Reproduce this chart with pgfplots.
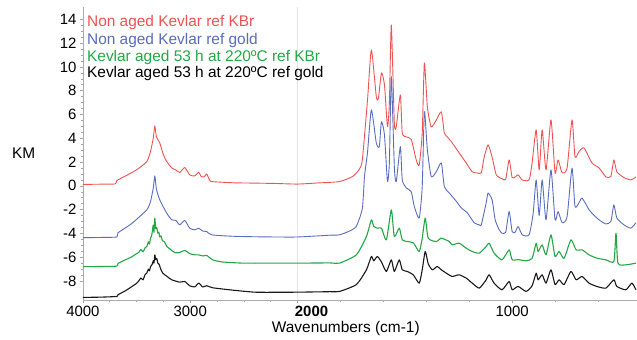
\documentclass[border=0pt]{standalone}
\usepackage{pgfplots}
\pgfplotsset{compat=1.18}
\usepackage{pgfplotstable}
\usepackage{fontspec}
\setmainfont{Liberation Sans}
\definecolor{cred}{RGB}{240,82,82}
\definecolor{cblue}{RGB}{88,108,192}
\definecolor{cgreen}{RGB}{34,168,70}
\definecolor{cblack}{RGB}{25,25,25}

\pgfplotstableread{
wn val
4000 0.12
3842 0.14
3700 0.16
3684 0.45
3600 0.85
3500 1.35
3405 2.04
3370 2.9
3345 4.0
3330 5.04
3315 4.1
3284 3.61
3250 2.6
3219 2.04
3172 1.51
3135 1.34
3098 1.13
3051 1.54
3005 0.92
2958 0.84
2921 1.15
2900 0.8
2870 0.76
2847 1.0
2820 0.5
2800 0.36
2600 0.26
2400 0.23
2200 0.2
2000 0.15
1900 0.25
1805 0.36
1744 0.78
1712 1.4
1698 2.2
1674 7.2
1656 11.43
1633 7.5
1623 7.39
1609 9.5
1595 8.5
1581 4.98
1572 7.0
1563 13.53
1549 5.3
1540 4.98
1521 7.65
1512 4.45
1493 4.12
1470 3.9
1447 2.18
1433 1.76
1419 4.45
1409 10.34
1395 6.64
1377 4.96
1353 5.55
1330 6.22
1316 4.45
1302 4.12
1279 3.61
1247 2.77
1214 1.93
1186 1.18
1163 1.09
1144 1.09
1130 2.44
1112 3.45
1093 2.4
1074 0.93
1047 0.6
1030 0.55
1014 2.18
1000 0.7
986 0.75
972 0.93
953 0.5
921 0.5
907 1.93
888 4.71
874 1.34
860 4.71
842 1.34
819 5.55
800 1.09
786 2.18
767 1.09
744 1.5
721 5.55
707 2.44
688 2.9
665 3.19
628 1.93
595 1.51
563 0.75
540 0.8
526 2.18
512 1.18
479 0.7
447 0.5
423 0.75
}\redtab

\pgfplotstableread{
wn val
4000 -4.36
3842 -4.34
3684 -4.3
3674 -3.95
3550 -3.2
3405 -2.02
3370 -1.3
3345 -0.2
3330 0.84
3315 -0.3
3284 -1.18
3219 -2.3
3172 -2.86
3135 -2.9
3098 -3.28
3051 -2.91
3005 -3.56
2958 -3.7
2921 -3.56
2884 -3.8
2847 -3.84
2800 -4.12
2600 -4.24
2400 -4.28
2200 -4.3
2000 -4.3
1850 -4.15
1805 -4.12
1758 -3.8
1726 -3.4
1698 -1.9
1688 0.8
1674 2.8
1656 6.39
1633 3.61
1619 3.3
1609 5.4
1595 4.3
1581 0.36
1572 2.0
1563 9.18
1549 1.62
1540 0.36
1521 3.3
1512 0.5
1493 -0.17
1470 -0.5
1456 -1.74
1433 -2.71
1419 -0.06
1409 6.24
1395 3.03
1377 0.78
1353 1.2
1330 1.93
1316 -0.06
1293 -0.6
1260 -1.3
1237 -1.85
1209 -2.27
1177 -3.1
1153 -3.28
1144 -3.3
1121 -1.43
1112 -0.6
1093 -1.2
1079 -2.86
1060 -3.7
1047 -3.98
1030 -3.9
1014 -2.16
1000 -3.84
986 -3.9
972 -3.42
953 -4.12
921 -4.12
902 -2.3
888 0.5
874 -2.5
860 0.5
842 -2.86
819 1.34
800 -2.86
786 -2.16
767 -3.1
744 -2.6
721 1.49
707 -1.74
688 -1.4
674 -1.03
642 -2.0
628 -2.3
595 -2.86
563 -3.2
540 -3.0
526 -1.6
512 -2.71
479 -3.28
447 -3.56
423 -3.1
}\bluetab

\pgfplotstableread{
wn val
4000 -6.8
3842 -6.78
3684 -6.75
3674 -6.53
3600 -6.2
3550 -6.0
3500 -5.7
3480 -5.6
3460 -5.35
3440 -5.55
3420 -5.2
3405 -5.1
3390 -4.7
3380 -4.9
3370 -4.4
3360 -4.2
3350 -3.6
3345 -3.3
3338 -3.9
3330 -2.71
3322 -3.6
3312 -3.5
3302 -3.98
3292 -3.9
3284 -4.3
3272 -4.2
3260 -4.6
3240 -4.7
3219 -5.1
3190 -5.3
3172 -5.45
3135 -5.63
3098 -5.6
3051 -5.43
3005 -5.7
2958 -5.8
2921 -5.8
2880 -5.9
2847 -5.85
2791 -6.22
2700 -6.4
2500 -6.5
2200 -6.5
2000 -6.5
1850 -6.48
1805 -6.5
1726 -5.8
1679 -4.26
1656 -2.86
1645 -3.4
1628 -3.56
1609 -3.56
1586 -4.54
1563 -2.02
1549 -4.26
1526 -3.56
1512 -4.54
1488 -4.68
1460 -4.8
1433 -5.52
1419 -4.4
1405 -2.71
1391 -4.4
1353 -4.68
1330 -4.4
1293 -4.68
1279 -4.96
1247 -4.82
1214 -5.24
1186 -5.52
1153 -5.66
1121 -5.1
1107 -4.82
1084 -5.66
1047 -6.22
1014 -5.38
1000 -6.22
972 -6.2
935 -6.3
907 -6.1
888 -4.82
879 -5.52
860 -4.96
842 -5.8
819 -4.12
800 -5.94
781 -5.52
758 -6.1
726 -4.54
702 -5.38
674 -5.38
642 -5.8
605 -6.08
563 -6.22
526 -6.36
516 -3.98
507 -6.5
470 -6.64
423 -6.5
}\greentab

\pgfplotstableread{
wn val
4000 -9.38
3842 -9.36
3684 -9.3
3674 -9.16
3600 -8.8
3500 -8.2
3480 -8.0
3460 -7.75
3440 -7.9
3420 -7.45
3405 -7.34
3390 -7.0
3380 -7.15
3370 -6.8
3355 -6.6
3345 -6.3
3338 -6.5
3330 -5.8
3322 -6.2
3312 -6.1
3302 -6.5
3290 -6.6
3275 -7.0
3256 -7.34
3219 -7.6
3172 -7.9
3098 -8.1
3051 -8.04
3005 -8.4
2958 -8.5
2921 -8.18
2884 -8.5
2847 -8.4
2791 -8.57
2605 -8.77
2400 -8.94
2200 -8.95
2000 -8.94
1850 -8.9
1805 -8.88
1726 -8.3
1679 -7.06
1656 -5.94
1645 -6.3
1628 -5.94
1609 -6.4
1586 -7.2
1563 -6.22
1549 -7.2
1526 -6.22
1512 -7.06
1488 -7.2
1460 -7.5
1433 -8.18
1419 -7.06
1405 -5.52
1391 -6.55
1372 -7.06
1349 -6.78
1330 -7.06
1307 -7.34
1279 -7.62
1247 -7.48
1214 -7.76
1186 -8.18
1153 -8.6
1121 -7.9
1107 -7.48
1084 -8.18
1047 -8.74
1014 -8.04
1000 -8.74
972 -8.46
935 -8.88
907 -8.4
888 -7.34
879 -7.9
860 -7.48
842 -8.18
819 -7.06
800 -8.3
781 -7.9
758 -8.3
726 -7.2
702 -7.9
674 -7.62
642 -8.18
605 -8.46
563 -8.6
526 -7.9
512 -8.46
470 -8.74
442 -8.18
423 -8.74
}\blacktab

\begin{document}
\begin{tikzpicture}
\begin{axis}[
  scale only axis,
  width=554bp, height=292.7bp,
  xmin=0, xmax=5160, ymin=-9.6, ymax=15,
  axis x line*=bottom, axis y line*=left,
  axis line style={gray!65, line width=0.8bp},
  xtick={0,1000,2000,4000},
  xticklabels={4000,3000,\textbf{\hspace*{28bp}2000},1000},
  minor xtick={250,500,750,1250,1500,1750,2400,2800,3200,3600,4400,4800},
  ytick={-8,-6,...,14},
  minor y tick num=3,
  tick align=outside,
  major tick length=3bp, minor tick length=2bp,
  tick style={gray!70, line width=0.6bp},
  ticklabel style={font=\fontsize{15}{15}\selectfont},
  /pgf/number format/assume math mode=true,
  extra x ticks={2000}, extra x tick labels={},
  extra x tick style={grid=major, major grid style={gray!20, line width=0.8bp}, major tick length=0pt},
  every axis plot/.append style={line width=0.9bp, line join=round, smooth, tension=0.35},
]
\addplot[cred] table[x expr={\thisrow{wn}>1999.5 ? 4000-\thisrow{wn} : 6000-2*\thisrow{wn}}, y=val] {\redtab};
\addplot[cblue] table[x expr={\thisrow{wn}>1999.5 ? 4000-\thisrow{wn} : 6000-2*\thisrow{wn}}, y=val] {\bluetab};
\addplot[cgreen, line width=1.1bp] table[x expr={\thisrow{wn}>1999.5 ? 4000-\thisrow{wn} : 6000-2*\thisrow{wn}}, y=val] {\greentab};
\addplot[cblack, line width=1.1bp] table[x expr={\thisrow{wn}>1999.5 ? 4000-\thisrow{wn} : 6000-2*\thisrow{wn}}, y=val] {\blacktab};
\end{axis}
\begin{scope}[every node/.style={anchor=west, inner sep=0pt, font=\fontsize{15.5}{15.5}\selectfont}]
\node[text=cred]   at ([xshift=4bp,yshift=278bp]current axis.south west) {Non aged Kevlar ref KBr};
\node[text=cblue]  at ([xshift=4bp,yshift=260bp]current axis.south west) {Non aged Kevlar ref gold};
\node[text=cgreen] at ([xshift=4bp,yshift=243bp]current axis.south west) {Kevlar aged 53 h at 220ºC ref KBr};
\node[text=black]  at ([xshift=4bp,yshift=227bp]current axis.south west) {Kevlar aged 53 h at 220ºC ref gold};
\node at ([xshift=-71bp,yshift=147bp]current axis.south west) {KM};
\node[anchor=center] at ([xshift=263bp,yshift=-29bp]current axis.south west) {Wavenumbers (cm-1)};
\end{scope}
\path (current axis.south west) +(-83bp,-40bp) (current axis.north east) +(0bp,7.5bp);
\end{tikzpicture}
\end{document}
